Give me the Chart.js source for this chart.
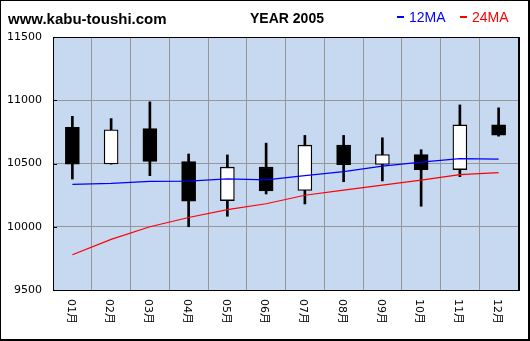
<!DOCTYPE html>
<html>
<head>
<meta charset="utf-8">
<script src="https://cdn.jsdelivr.net/npm/chart.js@4"></script>
<style>
  html, body { margin: 0; padding: 0; background: #ffffff; }
  #wrap { width: 530px; height: 341px; }
</style>
</head>
<body>
<div id="wrap"><canvas id="c" width="530" height="341"></canvas></div>
<script>
// Monthly candles for 2005 with 12- and 24-month moving averages
const months = ['01月', '02月', '03月', '04月', '05月', '06月', '07月', '08月', '09月', '10月', '11月', '12月'];
const openVals  = [10785, 10497, 10777, 10516, 10207, 10471, 10287, 10645, 10492, 10570, 10452, 10805];
const highVals  = [10873, 10855, 10987, 10575, 10568, 10661, 10722, 10722, 10703, 10609, 10963, 10940];
const lowVals   = [10377, 10495, 10404, 10000, 10083, 10259, 10180, 10356, 10362, 10162, 10396, 10716];
const closeVals = [10495, 10767, 10516, 10203, 10471, 10283, 10645, 10490, 10570, 10452, 10805, 10724];
const ma12 = [10335, 10343, 10359, 10361, 10378, 10370, 10404, 10436, 10479, 10511, 10539, 10534];
const ma24 = [9779, 9900, 10000, 10073, 10136, 10182, 10249, 10289, 10329, 10369, 10412, 10428];
const yMin = 9500, yMax = 11500, yStep = 500;

const siteText = 'www.kabu-toushi.com';
const titleText = 'YEAR 2005';
const legendItems = [
  { label: '12MA', color: '#0000ff', x: 397 },
  { label: '24MA', color: '#ff0000', x: 460 }
];

const bodies = openVals.map((o, i) => [Math.min(o, closeVals[i]), Math.max(o, closeVals[i])]);
const wicks = lowVals.map((l, i) => [l, highVals[i]]);
const bodyColors = openVals.map((o, i) => closeVals[i] >= o ? '#ffffff' : '#000000');

const decor = {
  id: 'decor',
  beforeDraw(chart) {
    const { ctx, chartArea: a } = chart;
    ctx.save();
    ctx.fillStyle = '#c6d9f1';
    ctx.fillRect(a.left, a.top, a.right - a.left, a.bottom - a.top);
    ctx.restore();
  },
  afterDraw(chart) {
    const { ctx, chartArea: a } = chart;
    const xs = chart.scales.x, ys = chart.scales.y;
    ctx.save();
    // plot frame
    ctx.strokeStyle = '#000000';
    ctx.lineWidth = 1;
    ctx.strokeRect(Math.round(a.left) + 0.5, Math.round(a.top) + 0.5,
                   Math.round(a.right - a.left), Math.round(a.bottom - a.top));
    ctx.fillStyle = '#000000';
    ctx.fillRect(Math.round(a.right) + 1, Math.round(a.top), 1, Math.round(a.bottom - a.top) + 1);
    // short inner ticks on the value axis
    for (let v = yMin + yStep; v < yMax; v += yStep) {
      const y = Math.round(ys.getPixelForValue(v));
      ctx.fillRect(Math.round(a.left), y, 4, 1);
    }
    // month labels, turned clockwise
    ctx.font = '11px "DejaVu Sans", "Noto Sans CJK JP", sans-serif';
    ctx.textAlign = 'left';
    ctx.textBaseline = 'middle';
    months.forEach((m, i) => {
      const x = xs.getPixelForValue(i) - 2;
      ctx.save();
      ctx.translate(x, a.bottom + 9);
      ctx.rotate(Math.PI / 2);
      ctx.fillText(m, 0, 0);
      ctx.restore();
    });
    // header texts
    ctx.textBaseline = 'alphabetic';
    ctx.font = 'bold 15px "Liberation Sans", Arial, sans-serif';
    ctx.fillText(siteText, 8, 24);
    ctx.font = 'bold 14px "Liberation Sans", Arial, sans-serif';
    ctx.textAlign = 'center';
    ctx.fillText(titleText, 287, 23);
    ctx.textAlign = 'left';
    ctx.font = '14px "Liberation Sans", Arial, sans-serif';
    legendItems.forEach(it => {
      ctx.fillStyle = it.color;
      ctx.fillRect(it.x, 16, 7, 2);
      ctx.fillText(it.label, it.x + 12, 22);
    });
    // outer border
    ctx.strokeStyle = '#000000';
    ctx.lineWidth = 2;
    ctx.strokeRect(0, 0, 529, 340);
    ctx.restore();
  }
};

new Chart(document.getElementById('c'), {
  type: 'bar',
  data: {
    labels: months,
    datasets: [
      {
        type: 'line', label: '12MA', data: ma12, order: 0,
        borderColor: '#0000ff', borderWidth: 1.2, pointRadius: 0, tension: 0, fill: false
      },
      {
        type: 'line', label: '24MA', data: ma24, order: 1,
        borderColor: '#ff0000', borderWidth: 1.2, pointRadius: 0, tension: 0, fill: false
      },
      {
        label: 'body', data: bodies, order: 2, grouped: false,
        backgroundColor: bodyColors, borderColor: '#000000', borderWidth: 1.3,
        borderSkipped: false, barThickness: 14
      },
      {
        label: 'wick', data: wicks, order: 3, grouped: false,
        backgroundColor: '#000000', borderWidth: 0, barThickness: 2
      }
    ]
  },
  options: {
    responsive: false,
    animation: false,
    devicePixelRatio: 1,
    layout: { padding: { left: 0, top: 37, right: 12, bottom: 0 } },
    plugins: { legend: { display: false }, title: { display: false }, tooltip: { enabled: false } },
    scales: {
      x: {
        type: 'category',
        offset: true,
        grid: { offset: true, color: '#969696', lineWidth: 1, drawTicks: false },
        border: { display: false },
        ticks: { display: false },
        afterFit(scale) { scale.height = 51; }
      },
      y: {
        min: yMin, max: yMax,
        grid: { color: '#969696', lineWidth: 1, drawTicks: false },
        border: { display: false },
        ticks: {
          stepSize: yStep, padding: 11, color: '#000000',
          font: { family: '"DejaVu Sans", sans-serif', size: 11 },
          callback: v => String(v)
        },
        afterFit(scale) { scale.width = 53; }
      }
    }
  },
  plugins: [decor]
});
</script>
</body>
</html>
